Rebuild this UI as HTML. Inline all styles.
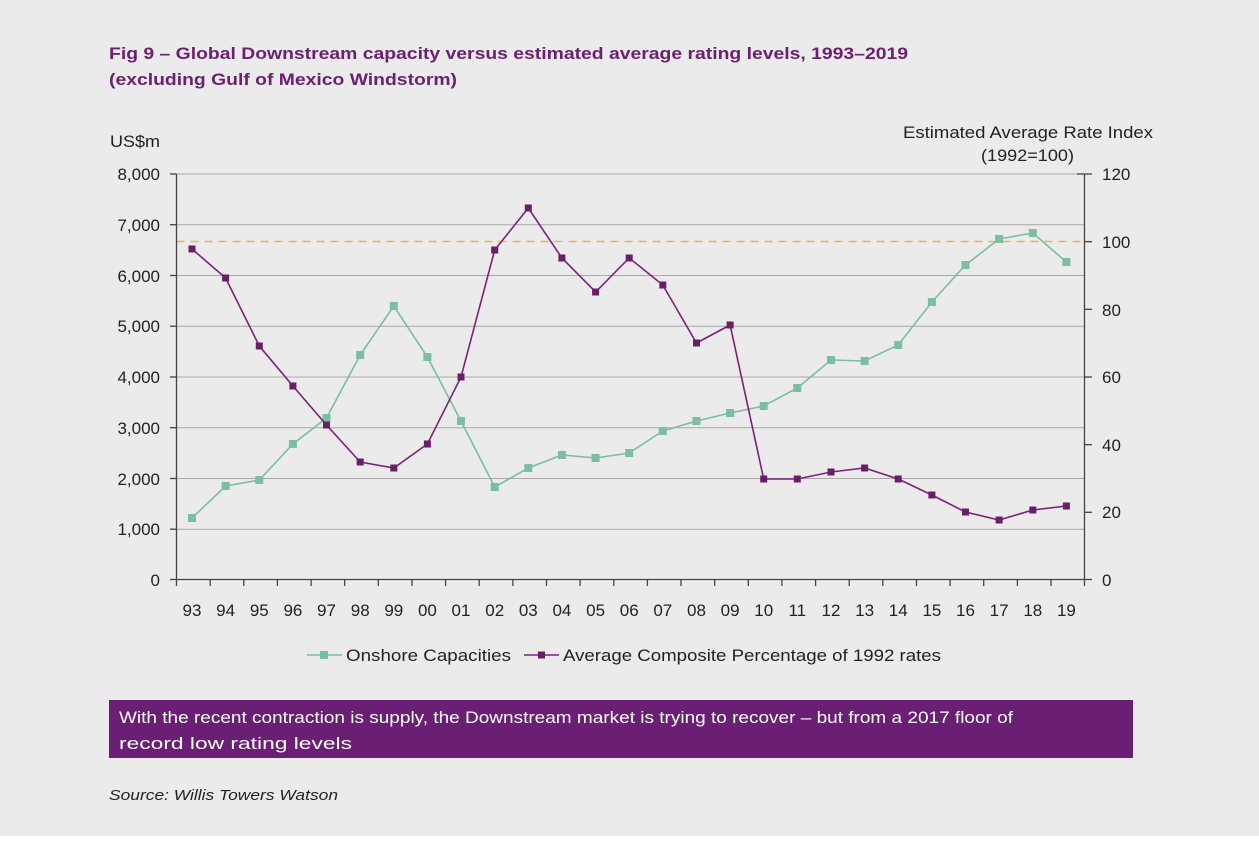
<!DOCTYPE html>
<html><head><meta charset="utf-8"><style>
html,body{margin:0;padding:0;background:#ebebeb;}
svg{display:block;font-family:"Liberation Sans",Arial,sans-serif;}
</style></head><body>
<svg width="1259" height="844" viewBox="0 0 1259 844" xmlns="http://www.w3.org/2000/svg">
<rect x="0" y="0" width="1259" height="836" fill="#ebebeb"/>
<rect x="0" y="836" width="1259" height="8" fill="#ffffff"/>
<g fill="#6b2170" font-weight="bold" font-size="17">
<text x="109" y="59" textLength="799" lengthAdjust="spacingAndGlyphs">Fig 9 – Global Downstream capacity versus estimated average rating levels, 1993–2019</text>
<text x="109" y="85" textLength="348" lengthAdjust="spacingAndGlyphs">(excluding Gulf of Mexico Windstorm)</text>
</g>
<g fill="#222" font-size="17">
<text x="110" y="147" textLength="50" lengthAdjust="spacingAndGlyphs">US$m</text>
<text x="903" y="138" textLength="250" lengthAdjust="spacingAndGlyphs">Estimated Average Rate Index</text>
<text x="981" y="161" textLength="93" lengthAdjust="spacingAndGlyphs">(1992=100)</text>
</g>
<!-- gridlines -->
<g stroke="#a8a8a8" stroke-width="1">
<line x1="176.5" y1="174" x2="1084.5" y2="174"/>
<line x1="176.5" y1="224.7" x2="1084.5" y2="224.7"/>
<line x1="176.5" y1="275.5" x2="1084.5" y2="275.5"/>
<line x1="176.5" y1="326.2" x2="1084.5" y2="326.2"/>
<line x1="176.5" y1="377" x2="1084.5" y2="377"/>
<line x1="176.5" y1="427.7" x2="1084.5" y2="427.7"/>
<line x1="176.5" y1="478.5" x2="1084.5" y2="478.5"/>
<line x1="176.5" y1="529.2" x2="1084.5" y2="529.2"/>
</g>
<line x1="176.5" y1="241.5" x2="1092" y2="241.5" stroke="#eab25a" stroke-width="1.5" stroke-dasharray="8,6"/>
<!-- axes -->
<g stroke="#444" stroke-width="1.3">
<line x1="176.5" y1="174" x2="176.5" y2="580"/>
<line x1="1084.5" y1="174" x2="1084.5" y2="580"/>
<line x1="176.5" y1="579.5" x2="1084.5" y2="579.5"/>
<line x1="170" y1="174" x2="176.5" y2="174"/><line x1="170" y1="224.7" x2="176.5" y2="224.7"/><line x1="170" y1="275.5" x2="176.5" y2="275.5"/><line x1="170" y1="326.2" x2="176.5" y2="326.2"/><line x1="170" y1="377" x2="176.5" y2="377"/><line x1="170" y1="427.7" x2="176.5" y2="427.7"/><line x1="170" y1="478.5" x2="176.5" y2="478.5"/><line x1="170" y1="529.2" x2="176.5" y2="529.2"/><line x1="170" y1="579.5" x2="176.5" y2="579.5"/>
<line x1="1077" y1="174" x2="1092" y2="174"/><line x1="1084.5" y1="241.7" x2="1092" y2="241.7"/><line x1="1084.5" y1="309.3" x2="1092" y2="309.3"/><line x1="1084.5" y1="377" x2="1092" y2="377"/><line x1="1084.5" y1="444.7" x2="1092" y2="444.7"/><line x1="1084.5" y1="512.3" x2="1092" y2="512.3"/><line x1="1084.5" y1="579.5" x2="1092" y2="579.5"/>
</g>
<g stroke="#444" stroke-width="1.3">
<line x1="176.5" y1="580" x2="176.5" y2="586"/><line x1="210.2" y1="580" x2="210.2" y2="586"/><line x1="243.8" y1="580" x2="243.8" y2="586"/><line x1="277.4" y1="580" x2="277.4" y2="586"/><line x1="311.1" y1="580" x2="311.1" y2="586"/><line x1="344.7" y1="580" x2="344.7" y2="586"/><line x1="378.3" y1="580" x2="378.3" y2="586"/><line x1="412" y1="580" x2="412" y2="586"/><line x1="445.6" y1="580" x2="445.6" y2="586"/><line x1="479.2" y1="580" x2="479.2" y2="586"/><line x1="512.9" y1="580" x2="512.9" y2="586"/><line x1="546.5" y1="580" x2="546.5" y2="586"/><line x1="580.1" y1="580" x2="580.1" y2="586"/><line x1="613.8" y1="580" x2="613.8" y2="586"/><line x1="647.4" y1="580" x2="647.4" y2="586"/><line x1="681" y1="580" x2="681" y2="586"/><line x1="714.7" y1="580" x2="714.7" y2="586"/><line x1="748.3" y1="580" x2="748.3" y2="586"/><line x1="781.9" y1="580" x2="781.9" y2="586"/><line x1="815.6" y1="580" x2="815.6" y2="586"/><line x1="849.2" y1="580" x2="849.2" y2="586"/><line x1="882.8" y1="580" x2="882.8" y2="586"/><line x1="916.5" y1="580" x2="916.5" y2="586"/><line x1="950.1" y1="580" x2="950.1" y2="586"/><line x1="983.7" y1="580" x2="983.7" y2="586"/><line x1="1017.4" y1="580" x2="1017.4" y2="586"/><line x1="1051" y1="580" x2="1051" y2="586"/><line x1="1084.5" y1="580" x2="1084.5" y2="586"/>
</g>
<!-- tick labels -->
<g fill="#222" font-size="17" text-anchor="end">
<text x="160" y="180">8,000</text><text x="160" y="231">7,000</text><text x="160" y="282">6,000</text><text x="160" y="332">5,000</text><text x="160" y="383">4,000</text><text x="160" y="434">3,000</text><text x="160" y="485">2,000</text><text x="160" y="535">1,000</text><text x="160" y="586">0</text>
</g>
<g fill="#222" font-size="17">
<text x="1102" y="180">120</text><text x="1102" y="248">100</text><text x="1102" y="316">80</text><text x="1102" y="383">60</text><text x="1102" y="451">40</text><text x="1102" y="518">20</text><text x="1102" y="586">0</text>
</g>
<g fill="#222" font-size="17" text-anchor="middle">
<text x="192" y="616">93</text><text x="225.6" y="616">94</text><text x="259.3" y="616">95</text><text x="292.9" y="616">96</text><text x="326.5" y="616">97</text><text x="360.2" y="616">98</text><text x="393.8" y="616">99</text><text x="427.4" y="616">00</text><text x="461" y="616">01</text><text x="494.7" y="616">02</text><text x="528.3" y="616">03</text><text x="561.9" y="616">04</text><text x="595.6" y="616">05</text><text x="629.2" y="616">06</text><text x="662.8" y="616">07</text><text x="696.5" y="616">08</text><text x="730.1" y="616">09</text><text x="763.7" y="616">10</text><text x="797.3" y="616">11</text><text x="831" y="616">12</text><text x="864.6" y="616">13</text><text x="898.2" y="616">14</text><text x="931.9" y="616">15</text><text x="965.5" y="616">16</text><text x="999.1" y="616">17</text><text x="1032.8" y="616">18</text><text x="1066.4" y="616">19</text>
</g>
<!-- green series -->
<polyline fill="none" stroke="#79bfa0" stroke-width="1.6" points="192,518 225.6,486 259.3,480 292.9,444 326.5,418 360.2,355 393.8,306 427.4,357 461,421 494.7,487 528.3,468 561.9,455 595.6,458 629.2,453 662.8,431 696.5,421 730.1,413 763.7,406 797.3,388 831,360 864.6,361 898.2,345 931.9,302 965.5,265 999.1,239 1032.8,233 1066.4,262"/>
<g fill="#79bfa0">
<rect x="188" y="514" width="8" height="8"/><rect x="221.6" y="482" width="8" height="8"/><rect x="255.3" y="476" width="8" height="8"/><rect x="288.9" y="440" width="8" height="8"/><rect x="322.5" y="414" width="8" height="8"/><rect x="356.2" y="351" width="8" height="8"/><rect x="389.8" y="302" width="8" height="8"/><rect x="423.4" y="353" width="8" height="8"/><rect x="457" y="417" width="8" height="8"/><rect x="490.7" y="483" width="8" height="8"/><rect x="524.3" y="464" width="8" height="8"/><rect x="557.9" y="451" width="8" height="8"/><rect x="591.6" y="454" width="8" height="8"/><rect x="625.2" y="449" width="8" height="8"/><rect x="658.8" y="427" width="8" height="8"/><rect x="692.5" y="417" width="8" height="8"/><rect x="726.1" y="409" width="8" height="8"/><rect x="759.7" y="402" width="8" height="8"/><rect x="793.3" y="384" width="8" height="8"/><rect x="827" y="356" width="8" height="8"/><rect x="860.6" y="357" width="8" height="8"/><rect x="894.2" y="341" width="8" height="8"/><rect x="927.9" y="298" width="8" height="8"/><rect x="961.5" y="261" width="8" height="8"/><rect x="995.1" y="235" width="8" height="8"/><rect x="1028.8" y="229" width="8" height="8"/><rect x="1062.4" y="258" width="8" height="8"/>
</g>
<!-- purple series -->
<polyline fill="none" stroke="#7b2278" stroke-width="1.6" points="192,249 225.6,278 259.3,346 292.9,386 326.5,425 360.2,462 393.8,468 427.4,444 461,377 494.7,250 528.3,208 561.9,258 595.6,292 629.2,258 662.8,285 696.5,343 730.1,325 763.7,479 797.3,479 831,472 864.6,468 898.2,479 931.9,495 965.5,512 999.1,520 1032.8,510 1066.4,506"/>
<g fill="#6a1e68">
<rect x="188.5" y="245.5" width="7" height="7"/><rect x="222.1" y="274.5" width="7" height="7"/><rect x="255.8" y="342.5" width="7" height="7"/><rect x="289.4" y="382.5" width="7" height="7"/><rect x="323" y="421.5" width="7" height="7"/><rect x="356.7" y="458.5" width="7" height="7"/><rect x="390.3" y="464.5" width="7" height="7"/><rect x="423.9" y="440.5" width="7" height="7"/><rect x="457.5" y="373.5" width="7" height="7"/><rect x="491.2" y="246.5" width="7" height="7"/><rect x="524.8" y="204.5" width="7" height="7"/><rect x="558.4" y="254.5" width="7" height="7"/><rect x="592.1" y="288.5" width="7" height="7"/><rect x="625.7" y="254.5" width="7" height="7"/><rect x="659.3" y="281.5" width="7" height="7"/><rect x="693" y="339.5" width="7" height="7"/><rect x="726.6" y="321.5" width="7" height="7"/><rect x="760.2" y="475.5" width="7" height="7"/><rect x="793.8" y="475.5" width="7" height="7"/><rect x="827.5" y="468.5" width="7" height="7"/><rect x="861.1" y="464.5" width="7" height="7"/><rect x="894.7" y="475.5" width="7" height="7"/><rect x="928.4" y="491.5" width="7" height="7"/><rect x="962" y="508.5" width="7" height="7"/><rect x="995.6" y="516.5" width="7" height="7"/><rect x="1029.3" y="506.5" width="7" height="7"/><rect x="1062.9" y="502.5" width="7" height="7"/>
</g>
<!-- legend -->
<line x1="307" y1="655" x2="342" y2="655" stroke="#79bfa0" stroke-width="1.6"/>
<rect x="320" y="651" width="8" height="8" fill="#79bfa0"/>
<text x="346" y="661" font-size="17" fill="#222" textLength="165" lengthAdjust="spacingAndGlyphs">Onshore Capacities</text>
<line x1="524" y1="655" x2="559" y2="655" stroke="#7b2278" stroke-width="1.6"/>
<rect x="538" y="651.5" width="7" height="7" fill="#6a1e68"/>
<text x="563" y="661" font-size="17" fill="#222" textLength="378" lengthAdjust="spacingAndGlyphs">Average Composite Percentage of 1992 rates</text>
<!-- callout -->
<rect x="109" y="700" width="1024" height="58" fill="#6a1f74"/>
<g fill="#ffffff" font-size="17">
<text x="119" y="723" textLength="894" lengthAdjust="spacingAndGlyphs">With the recent contraction is supply, the Downstream market is trying to recover – but from a 2017 floor of</text>
<text x="119" y="749" textLength="233" lengthAdjust="spacingAndGlyphs">record low rating levels</text>
</g>
<text x="109" y="800" font-size="15" font-style="italic" fill="#222" textLength="229" lengthAdjust="spacingAndGlyphs">Source: Willis Towers Watson</text>
</svg>
</body></html>
